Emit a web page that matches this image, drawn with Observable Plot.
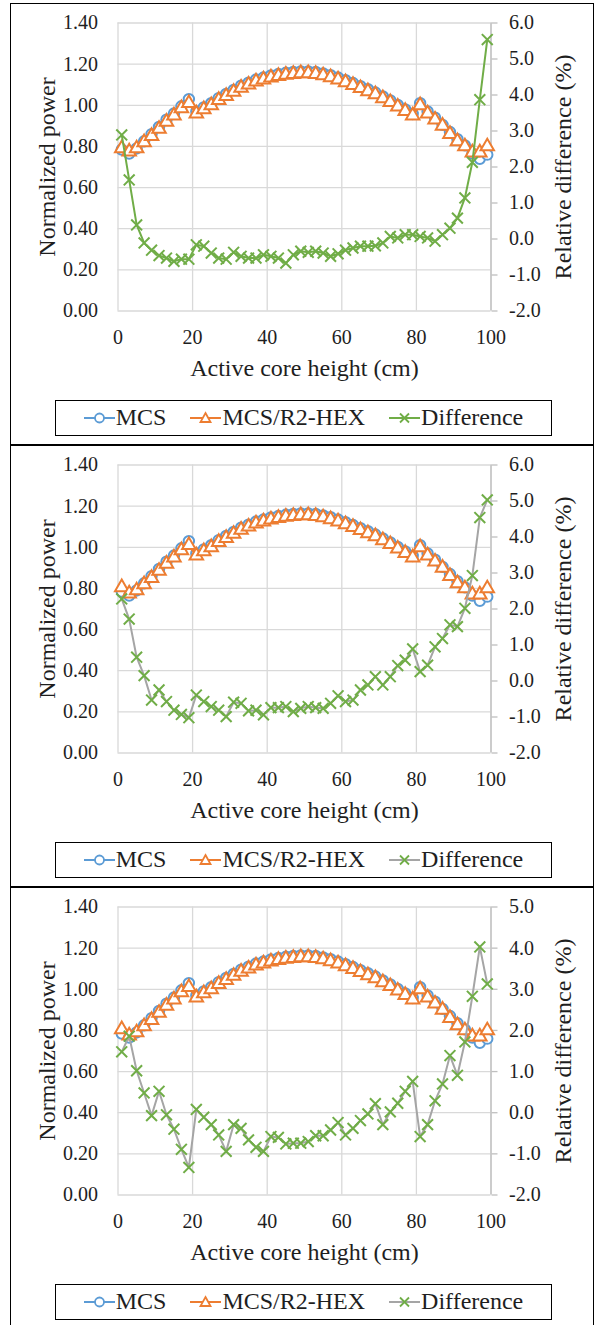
<!DOCTYPE html>
<html><head><meta charset="utf-8">
<script src="https://cdn.jsdelivr.net/npm/d3@7"></script>
<script src="https://cdn.jsdelivr.net/npm/@observablehq/plot@0.6"></script>
<style>
body{margin:0;background:#fff;font-family:'Liberation Serif','Times New Roman',serif;}
#wrap{position:absolute;left:10px;top:3px;width:584px;}
.panel{box-sizing:border-box;width:584px;height:442px;border:1.5px solid #000;position:relative;background:#fff}
.panel > svg{position:absolute;left:0;top:0}
.legend{position:absolute;left:44px;top:395.5px;width:497px;height:36px;box-sizing:border-box;border:1.5px solid #000;display:flex;align-items:center;justify-content:center;gap:24px;font-size:24px;color:#1e1e1e}
.item{display:flex;align-items:center}
.item svg{position:static;margin-right:1px}
</style></head>
<body><div id="wrap"></div>
<script>
const FONT = "'Liberation Serif','Times New Roman',serif";
// Axial position of each node (cm)
const heights = [1,3,5,7,9,11,13,15,17,19,21,23,25,27,29,31,33,35,37,39,41,43,45,47,49,
                 51,53,55,57,59,61,63,65,67,69,71,73,75,77,79,81,83,85,87,89,91,93,95,97,99];
// Normalized power, MCS
const mcsPower = [0.785,0.765,0.79,0.825,0.86,0.895,0.93,0.96,0.995,1.03,
                  0.97,0.99,1.01,1.035,1.055,1.075,1.095,1.11,1.125,1.135,
                  1.145,1.152,1.158,1.162,1.165,1.165,1.162,1.155,1.146,1.135,
                  1.122,1.108,1.093,1.078,1.062,1.043,1.024,1.002,0.98,0.958,
                  1.01,0.97,0.94,0.905,0.87,0.835,0.805,0.765,0.74,0.76];
// Normalized power, MCS/R2-HEX (panel 1)
const hexPowerA = [0.79,0.775,0.79,0.82,0.85,0.885,0.92,0.95,0.985,1.01,
                   0.96,0.98,1.0,1.025,1.045,1.065,1.085,1.1,1.115,1.125,
                   1.135,1.142,1.148,1.152,1.155,1.155,1.152,1.145,1.136,1.125,
                   1.112,1.098,1.083,1.068,1.053,1.034,1.015,0.993,0.972,0.95,
                   1.0,0.96,0.93,0.9,0.86,0.825,0.8,0.77,0.77,0.8];
// Normalized power, MCS/R2-HEX (panels 2 and 3)
const hexPowerB = [0.805,0.775,0.79,0.82,0.85,0.885,0.92,0.95,0.985,1.01,
                   0.96,0.98,1.0,1.025,1.045,1.065,1.085,1.1,1.115,1.125,
                   1.135,1.142,1.148,1.152,1.155,1.155,1.152,1.145,1.136,1.125,
                   1.112,1.098,1.083,1.068,1.053,1.034,1.015,0.993,0.972,0.95,
                   1.0,0.96,0.93,0.9,0.86,0.825,0.8,0.77,0.77,0.8];
// Relative difference (%)
const diff1 = [2.89,1.64,0.39,-0.11,-0.31,-0.46,-0.53,-0.62,-0.56,-0.56,
               -0.16,-0.2,-0.39,-0.53,-0.56,-0.37,-0.48,-0.53,-0.53,-0.44,
               -0.48,-0.53,-0.67,-0.44,-0.34,-0.37,-0.34,-0.39,-0.48,-0.41,
               -0.31,-0.25,-0.2,-0.2,-0.19,-0.11,0.07,0.03,0.12,0.12,
               0.07,0.03,-0.06,0.12,0.3,0.58,1.14,2.13,3.87,5.54];
const diff2 = [2.28,1.72,0.66,0.15,-0.53,-0.25,-0.57,-0.81,-0.93,-1.02,
               -0.39,-0.57,-0.71,-0.81,-0.99,-0.59,-0.62,-0.83,-0.81,-0.94,
               -0.74,-0.74,-0.71,-0.85,-0.76,-0.71,-0.74,-0.76,-0.62,-0.41,
               -0.57,-0.53,-0.25,-0.11,0.12,-0.11,0.12,0.43,0.58,0.89,
               0.26,0.44,0.95,1.18,1.56,1.51,2.02,2.93,4.54,5.03];
const diff3 = [1.48,1.86,1.02,0.48,-0.07,0.52,-0.05,-0.4,-0.89,-1.33,
               0.08,-0.11,-0.29,-0.54,-0.94,-0.29,-0.38,-0.66,-0.84,-0.94,
               -0.58,-0.6,-0.76,-0.74,-0.74,-0.7,-0.56,-0.56,-0.42,-0.24,
               -0.54,-0.38,-0.19,-0.03,0.22,-0.29,0.02,0.23,0.52,0.76,
               -0.58,-0.29,0.29,0.7,1.39,0.91,1.72,2.83,4.03,3.13];
// Tick values
const xTicks = [0,20,40,60,80,100];
const leftTicks = [0,0.2,0.4,0.6,0.8,1.0,1.2,1.4];
const rightTicksA = [-2,-1,0,1,2,3,4,5,6];
const rightTicksB = [-2,-1,0,1,2,3,4,5];
const seriesNames = ["MCS","MCS/R2-HEX","Difference"];

const BLUE="#5B9BD5", ORANGE="#ED7D31", GREEN="#70AD47", GRAY="#A5A5A5", TXT="#1e1e1e";

function swatch(color, sym){
  const ns="http://www.w3.org/2000/svg";
  const s=document.createElementNS(ns,"svg");
  s.setAttribute("width","31");s.setAttribute("height","16");
  let inner=`<line x1="0" y1="8" x2="31" y2="8" stroke="${color}" stroke-width="2"/>`;
  if(sym==="circle") inner+=`<circle cx="15.5" cy="8" r="4.5" fill="white" stroke="${BLUE}" stroke-width="1.8"/>`;
  if(sym==="triangle") inner+=`<path d="M15.5,3 L20.5,12 L10.5,12 Z" fill="white" stroke="${ORANGE}" stroke-width="1.8"/>`;
  if(sym==="times") inner+=`<path d="M11,3.5 L20,12.5 M20,3.5 L11,12.5" stroke="${GREEN}" stroke-width="1.8"/>`;
  s.innerHTML=inner;return s;
}

function makePanel(hexPower, diff, rightTicks, diffLine){
  const dMin=rightTicks[0], dMax=rightTicks[rightTicks.length-1];
  const toLeft=d=>(d-dMin)/(dMax-dMin)*1.4;
  const data=heights.map((x,i)=>({x, mcs:mcsPower[i], hex:hexPower[i], diff:toLeft(diff[i])}));
  const plot=Plot.plot({
    width:581, height:380,
    marginLeft:106.5, marginRight:101.5, marginTop:18.5, marginBottom:73.5,
    x:{domain:[0,100], label:null},
    y:{domain:[0,1.4], label:null},
    style:{fontFamily:FONT, fontSize:"20px", color:TXT, background:"transparent", overflow:"visible"},
    marks:[
      Plot.gridX(xTicks,{stroke:"#d9d9d9", strokeOpacity:1, strokeWidth:1.3}),
      Plot.gridY(leftTicks,{stroke:"#d9d9d9", strokeOpacity:1, strokeWidth:1.3}),
      Plot.ruleX([100],{stroke:"#bfbfbf", strokeWidth:1.3}),
      Plot.axisX(xTicks,{tickSize:0, tickPadding:19, tickFormat:d=>String(d), fill:TXT, label:null, fontSize:20}),
      Plot.axisY(leftTicks,{anchor:"left", tickSize:0, tickPadding:20, tickFormat:d=>d.toFixed(2), fill:TXT, label:null, fontSize:20}),
      Plot.axisY(rightTicks.map(toLeft),{anchor:"right", tickSize:6, tickPadding:12, stroke:"#bfbfbf", strokeWidth:1.3,
        tickFormat:v=>rightTicks[Math.round(v/1.4*(dMax-dMin))].toFixed(1), fill:TXT, label:null, fontSize:20, textAnchor:"start"}),
      Plot.text(["Normalized power"],{frameAnchor:"left", textAnchor:"middle", lineAnchor:"middle", dx:-71, rotate:-90, fontSize:24, fill:TXT}),
      Plot.text(["Relative difference (%)"],{frameAnchor:"right", textAnchor:"middle", lineAnchor:"middle", dx:72, rotate:-90, fontSize:24, fill:TXT}),
      Plot.text(["Active core height (cm)"],{frameAnchor:"bottom", textAnchor:"middle", lineAnchor:"middle", dy:57, fontSize:24, fill:TXT}),
      Plot.line(data,{x:"x", y:"mcs", stroke:BLUE, strokeWidth:2.25}),
      Plot.dot(data,{x:"x", y:"mcs", symbol:"circle", r:5.2, stroke:BLUE, fill:"white", strokeWidth:2}),
      Plot.line(data,{x:"x", y:"hex", stroke:ORANGE, strokeWidth:2.25}),
      Plot.dot(data,{x:"x", y:"hex", symbol:"triangle", r:5, stroke:ORANGE, fill:"white", strokeWidth:2}),
      Plot.line(data,{x:"x", y:"diff", stroke:diffLine, strokeWidth:2}),
      Plot.dot(data,{x:"x", y:"diff", symbol:"times", r:5, stroke:GREEN, strokeWidth:2})
    ]
  });
  plot.querySelectorAll("text").forEach(t=>t.style.fontFamily=FONT);
  const panel=document.createElement("div");panel.className="panel";
  panel.appendChild(plot);
  const leg=document.createElement("div");leg.className="legend";
  const syms=[[BLUE,"circle"],[ORANGE,"triangle"],[diffLine,"times"]];
  seriesNames.forEach((n,i)=>{
    const it=document.createElement("div");it.className="item";
    it.appendChild(swatch(syms[i][0],syms[i][1]));
    const sp=document.createElement("span");sp.textContent=n;it.appendChild(sp);
    leg.appendChild(it);
  });
  panel.appendChild(leg);
  document.getElementById("wrap").appendChild(panel);
}
makePanel(hexPowerA, diff1, rightTicksA, GREEN);
makePanel(hexPowerB, diff2, rightTicksA, GRAY);
makePanel(hexPowerB, diff3, rightTicksB, GRAY);
</script></body></html>
